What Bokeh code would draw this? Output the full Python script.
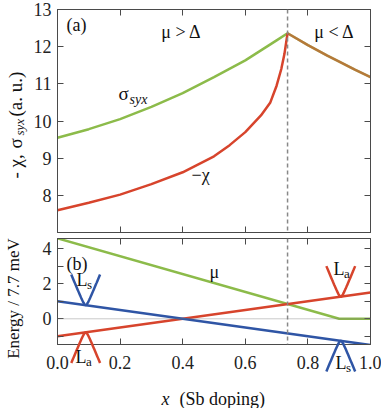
import numpy as np
from bokeh.plotting import figure
from bokeh.layouts import column
from bokeh.models import (Range1d, LinearAxis, FixedTicker, PrintfTickFormatter,
                          Span, Label)
from bokeh.embed import file_html
from bokeh.resources import INLINE

FONT = "Times New Roman"
GREEN = "#8cbb4a"
RED = "#d7442c"
BLUE = "#2f55a5"
AXC = "#4a4a4a"

# ---------------- data ----------------
# panel (a)
x_sigma = [0.0, 0.1, 0.2, 0.3, 0.4, 0.5, 0.6, 0.65, 0.7, 0.735, 0.8, 0.862, 0.9, 0.95, 1.0]
sigma_syx = [9.55, 9.78, 10.05, 10.38, 10.75, 11.18, 11.63, 11.9, 12.17, 12.36, 12.04, 11.76, 11.6, 11.38, 11.18]
x_chi = [0.0, 0.1, 0.2, 0.3, 0.4, 0.5, 0.55, 0.6, 0.65, 0.68, 0.7, 0.715, 0.725, 0.735]
minus_chi = [7.6, 7.8, 8.02, 8.3, 8.62, 9.05, 9.35, 9.7, 10.15, 10.5, 10.95, 11.4, 11.8, 12.36]
x_crit = 0.735

# panel (b)
x_band = [0.0, 1.0]
E_La = [-1.0, 1.5]
E_Ls = [1.0, -1.5]
x_mu = [0.0, 0.9, 1.0]
E_mu = [4.6, 0.0, 0.0]

cone_x = [0.09, 0.09, 0.905, 0.905]
cone_E = [0.78, -0.78, 1.26, -1.26]
cone_sign = [1, -1, 1, -1]
cone_color = [BLUE, RED, RED, BLUE]

top_yticks = [8, 9, 10, 11, 12, 13]
x_ticks = [0.0, 0.2, 0.4, 0.6, 0.8, 1.0]
bot_yticks = [-1, 0, 1, 2, 3, 4]

# ---------------- geometry ----------------
W, HT = 381, 408
FW = 313
L0 = 57
T1, H1 = 9, 223
T2, H2 = 238, 106
Y1 = (7.0, 13.0)
Y2 = (-1.47, 4.59)


def px_x(px):
    return (px - L0) / FW


def py1(py):
    return Y1[1] - (py - T1) * (Y1[1] - Y1[0]) / H1


def py2(py):
    return Y2[1] - (py - T2) * (Y2[1] - Y2[0]) / H2


def style_axis(ax, ticks, show_labels):
    ax.ticker = FixedTicker(ticks=ticks)
    ax.major_tick_in = 6
    ax.major_tick_out = 0
    ax.minor_tick_in = 0
    ax.minor_tick_out = 0
    ax.axis_line_color = AXC
    ax.major_tick_line_color = AXC
    ax.major_label_text_font = FONT
    if show_labels:
        ax.major_label_text_font_size = "18px"
        ax.major_label_text_color = "#222222"
    else:
        ax.major_label_text_font_size = "1px"
        ax.major_label_text_color = None
        ax.major_label_standoff = 0


def make_fig(h, yr, mt, mb):
    p = figure(frame_width=FW, frame_height=h, x_range=Range1d(0, 1), y_range=Range1d(*yr),
               output_backend="svg", toolbar_location=None,
               min_border_left=L0, min_border_right=W - L0 - FW,
               min_border_top=mt, min_border_bottom=mb)
    p.grid.visible = False
    p.outline_line_color = AXC
    p.background_fill_color = "white"
    p.border_fill_color = "white"
    return p


def overlay(fw, x0, mb_left, margin):
    p = figure(frame_width=fw, frame_height=HT, x_range=Range1d(px_x(x0), px_x(x0 + fw)),
               y_range=Range1d(py2(HT), py2(0)), output_backend="svg", toolbar_location=None,
               x_axis_location=None, y_axis_location=None,
               min_border=0, min_border_left=mb_left, min_border_right=0,
               min_border_top=0, min_border_bottom=0, margin=margin)
    p.grid.visible = False
    p.outline_line_color = None
    p.background_fill_alpha = 0
    p.border_fill_alpha = 0
    return p


def lab(p, x, y, t, size="18px", style="normal", align="left", base="middle", angle=0.0):
    p.add_layout(Label(x=x, y=y, text=t, text_font=FONT, text_font_size=size,
                       text_font_style=style, text_align=align, text_baseline=base,
                       angle=angle, text_color="#111111"))


# ---------------- panel (a) ----------------
p1 = make_fig(H1, Y1, T1, 4)
style_axis(p1.xaxis[0], x_ticks, False)
style_axis(p1.yaxis[0], top_yticks, True)
p1.yaxis[0].major_label_standoff = 6
ax_top = LinearAxis()
style_axis(ax_top, x_ticks, False)
p1.add_layout(ax_top, "above")
ax_r = LinearAxis()
style_axis(ax_r, top_yticks, False)
p1.add_layout(ax_r, "right")

p1.add_layout(Span(location=x_crit, dimension="height", line_color="#888888",
                   line_dash="4 3", line_width=1.5))
p1.line(x_sigma, sigma_syx, line_color=GREEN, line_width=2.5)
p1.line(x_chi, minus_chi, line_color=RED, line_width=2.5)
x_after = [x for x in x_sigma if x >= x_crit]
s_after = [s for x, s in zip(x_sigma, sigma_syx) if x >= x_crit]
p1.line(x_after, s_after, line_color=RED, line_width=2.5, line_alpha=0.55)

lab(p1, px_x(66), py1(24), "(a)")
lab(p1, px_x(181), py1(31), "μ > Δ", align="center")
lab(p1, px_x(334), py1(31), "μ < Δ", align="center")
lab(p1, px_x(118), py1(93), "σ", size="19px")
lab(p1, px_x(129), py1(99), "syx", size="14px", style="italic")
lab(p1, px_x(191), py1(174), "−χ")

# ---------------- panel (b) ----------------
p2 = make_fig(H2, Y2, T2 - T1 - H1 - 4, HT - T2 - H2)
style_axis(p2.xaxis[0], x_ticks, True)
p2.xaxis[0].formatter = PrintfTickFormatter(format="%.1f")
p2.xaxis[0].major_label_standoff = 11
style_axis(p2.yaxis[0], bot_yticks, True)
p2.yaxis[0].major_label_standoff = 6
p2.yaxis[0].major_label_overrides = {-1: "", 1: "", 3: ""}
ax_top2 = LinearAxis()
style_axis(ax_top2, x_ticks, False)
p2.add_layout(ax_top2, "above")
ax_r2 = LinearAxis()
style_axis(ax_r2, bot_yticks, False)
p2.add_layout(ax_r2, "right")

p2.add_layout(Span(location=x_crit, dimension="height", line_color="#888888",
                   line_dash="4 3", line_width=1.5))
p2.add_layout(Span(location=0, dimension="width", line_color="#777777",
                   line_dash="1 1", line_width=0.8))
p2.line(x_mu, E_mu, line_color=GREEN, line_width=2.5)
p2.line(x_band, E_La, line_color=RED, line_width=2.5)
p2.line(x_band, E_Ls, line_color=BLUE, line_width=2.5)

lab(p2, px_x(66), py2(263), "(b)")
lab(p2, px_x(209), py2(271), "μ")

# ---------------- transparent overlays (same scale as panel b) ----------------
# left strip: rotated axis titles (frame shifted to the page's left edge)
p3 = overlay(W, 0, 0, (-HT, 0, 0, -L0))
ang = np.pi / 2
lab(p3, px_x(15), py2(178), "- χ,", size="19px", angle=ang)
lab(p3, px_x(15), py2(148), "σ", size="19px", angle=ang)
lab(p3, px_x(19), py2(135), "syx", size="13px", style="italic", angle=ang)
lab(p3, px_x(15), py2(116), "(a. u.)", size="19px", angle=ang)
lab(p3, px_x(13), py2(298), "Energy / 7.7 meV", size="17px", align="center", angle=ang)

# right part: band-edge cones, their labels and the x title
p4 = overlay(W - L0, L0, L0, (-HT, 0, 0, 0))
half_w, depth, rnd = 0.046, 1.75, 0.25
k = np.sqrt((depth + rnd) ** 2 - rnd ** 2) / half_w
dx = np.linspace(-half_w, half_w, 41)
for cx, ce, sg, col in zip(cone_x, cone_E, cone_sign, cone_color):
    p4.line(cx + dx, ce + sg * (np.sqrt(rnd ** 2 + (k * dx) ** 2) - rnd),
            line_color=col, line_width=2.5)

for lx, ly, sub in [(76, 279, "s"), (75, 356, "a"), (333, 268, "a"), (335, 362, "s")]:
    lab(p4, px_x(lx), py2(ly), "L")
    lab(p4, px_x(lx + 10.5), py2(ly + 5), sub, size="13px")

lab(p4, px_x(161), py2(398), "x", size="18px", style="italic")
lab(p4, px_x(179), py2(398), "(Sb doping)", size="18px")

layout = column(p1, p2, p3, p4)
open("out.html", "w").write(file_html(layout, INLINE))
